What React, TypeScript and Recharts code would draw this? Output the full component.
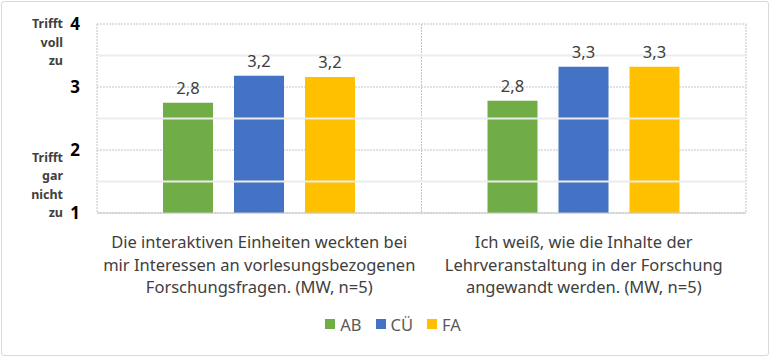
import { BarChart, Bar, XAxis, YAxis, CartesianGrid, ReferenceLine, LabelList, Legend } from "recharts";

const CATEGORIES = [
  "Die interaktiven Einheiten weckten bei\nmir Interessen an vorlesungsbezogenen\nForschungsfragen. (MW, n=5)",
  "Ich weiß, wie die Inhalte der\nLehrveranstaltung in der Forschung\nangewandt werden. (MW, n=5)",
];
const AB = [2.75, 2.78];
const CU = [3.18, 3.32];
const FA = [3.16, 3.32];

const SERIES = [
  { key: "AB", name: "AB", color: "#70AD47" },
  { key: "CU", name: "CÜ", color: "#4472C4" },
  { key: "FA", name: "FA", color: "#FFC000" },
];

const Y_TICKS = [1, 2, 3, 4];
const MINOR_TICKS = [1.5, 2.5, 3.5];
const TOP_LABEL = ["Trifft", "voll", "zu"];
const BOTTOM_LABEL = ["Trifft", "gar", "nicht", "zu"];

const FONT = "'Noto Sans', sans-serif";

const data = CATEGORIES.map((name, i) => ({ name, AB: AB[i], CU: CU[i], FA: FA[i] }));

const fmt = (v: any) => Number(v).toFixed(1).replace(".", ",");

const YTick = ({ x, y, payload }: any) => {
  const v = payload.value;
  let words: string[] = [];
  let startY = y;
  if (v === 4) {
    words = TOP_LABEL;
    startY = y + 4;
  } else if (v === 1) {
    words = BOTTOM_LABEL;
    startY = y + 4 - (BOTTOM_LABEL.length - 1) * 18.5;
  }
  return (
    <g>
      <text x={x - 9} y={y + 6} textAnchor="end" fontSize={17} fontWeight="bold" fill="#000" fontFamily={FONT}>
        {v}
      </text>
      {words.map((w, i) => (
        <text key={i} x={x - 26} y={startY + i * 18.5} textAnchor="end" fontSize={12.5} fontWeight="bold" fill="#404040" fontFamily={FONT}>
          {w}
        </text>
      ))}
    </g>
  );
};

const XTick = ({ x, y, payload }: any) => {
  const lines = String(payload.value).split("\n");
  return (
    <g>
      {lines.map((l, i) => (
        <text key={i} x={x} y={y + 27 + i * 22.5} textAnchor="middle" fontSize={16.5} fill="#404040" fontFamily={FONT}>
          {l}
        </text>
      ))}
    </g>
  );
};

const LegendContent = () => (
  <div style={{ display: "flex", justifyContent: "center", alignItems: "center", height: 44, paddingTop: 8, boxSizing: "border-box", fontFamily: FONT, fontSize: 16.5, color: "#595959" }}>
    {SERIES.map((s) => (
      <div key={s.key} style={{ display: "flex", alignItems: "center", margin: "0 7px" }}>
        <span style={{ width: 10, height: 10, background: s.color, display: "inline-block", marginRight: 5 }} />
        <span>{s.name}</span>
      </div>
    ))}
  </div>
);

export default function App() {
  return (
    <div style={{ position: "absolute", left: 0, top: 0, width: 770, height: 357, background: "#fff" }}>
      <div style={{ position: "absolute", left: 1, top: 1, width: 766, height: 353, border: "1px solid #d9d9d9", borderRadius: 3 }} />
      <BarChart
        width={770}
        height={357}
        data={data}
        margin={{ top: 24, right: 24, left: 0, bottom: 15 }}
        barSize={50}
        barGap={21}
      >
        <CartesianGrid
          stroke="#c4c4c4"
          strokeDasharray="2 1"
          verticalCoordinatesGenerator={({ offset }: any) => [
            offset.left,
            offset.left + offset.width / 2,
            offset.left + offset.width,
          ]}
        />
        {MINOR_TICKS.map((t) => (
          <ReferenceLine key={t} y={t} stroke="#ececec" strokeWidth={2} />
        ))}
        <XAxis dataKey="name" height={85} axisLine={{ stroke: "#c8c8c8" }} tickLine={false} tick={<XTick />} interval={0} />
        <YAxis type="number" domain={[1, 4]} ticks={Y_TICKS} width={97} axisLine={false} tickLine={false} tick={<YTick />} />
        <Legend verticalAlign="bottom" height={44} content={<LegendContent />} wrapperStyle={{ left: 8, width: 770 }} />
        {SERIES.map((s) => (
          <Bar key={s.key} dataKey={s.key} name={s.name} fill={s.color} isAnimationActive={false}>
            <LabelList dataKey={s.key} position="top" offset={9} formatter={fmt} fontSize={16.5} fill="#404040" fontFamily={FONT} />
          </Bar>
        ))}
      </BarChart>
    </div>
  );
}
